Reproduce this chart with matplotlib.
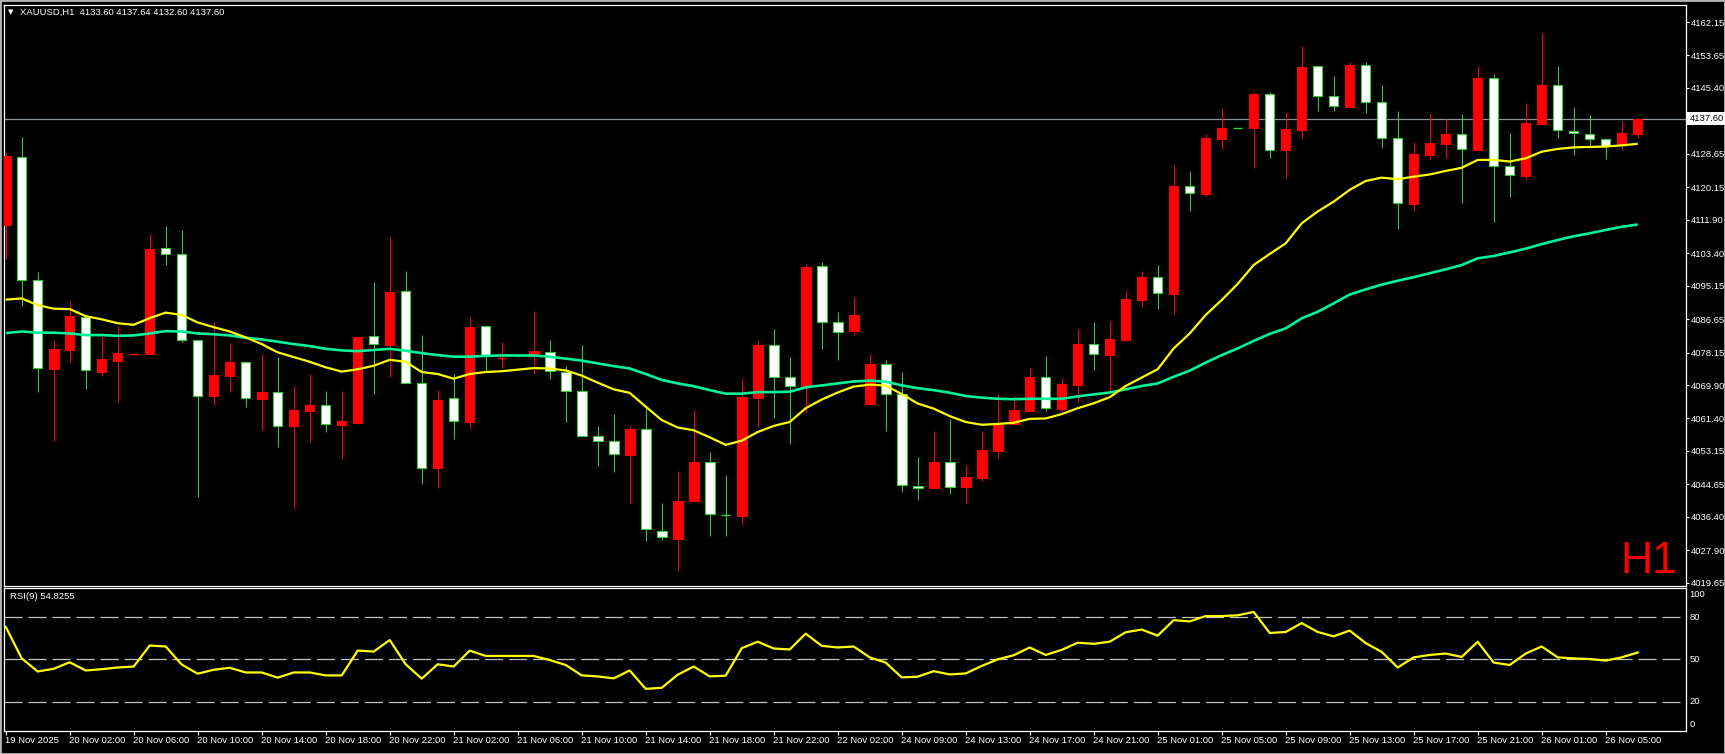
import matplotlib
matplotlib.use("Agg")
import matplotlib.pyplot as plt
from matplotlib.patches import Rectangle
import matplotlib.transforms as mtransforms
import numpy as np

plt.rcParams['font.family'] = ['Liberation Sans', 'DejaVu Sans']
plt.rcParams['lines.scale_dashes'] = False

# ---------------- data ----------------
opens = [4110.6, 4127.8, 4096.5, 4074.0, 4078.9, 4087.3, 4073.3, 4076.1, 4077.9, 4077.9,
         4104.6, 4103.1, 4081.3, 4067.0, 4072.3, 4075.7, 4066.4, 4068.0, 4059.6, 4063.4,
         4064.7, 4059.8, 4060.25, 4082.3, 4080.1, 4093.7, 4070.3, 4048.9, 4066.5, 4060.6,
         4084.8, 4076.8, 4077.4, 4077.5, 4078.3, 4073.1, 4068.3, 4056.9, 4055.6, 4052.2,
         4058.6, 4032.8, 4030.8, 4040.3, 4050.3, 4036.9, 4036.7, 4066.7, 4080.0, 4071.9,
         4069.6, 4100.1, 4085.8, 4083.5, 4065.2, 4075.2, 4067.5, 4044.3, 4043.6, 4050.3,
         4044.0, 4046.35, 4053.2, 4059.9, 4063.4, 4071.85, 4063.8, 4070.0, 4080.2, 4077.6,
         4081.3, 4091.6, 4097.3, 4093.1, 4120.4, 4118.5, 4132.5, 4135.15, 4135.3, 4143.8,
         4129.5, 4134.8, 4150.9, 4143.3, 4140.6, 4151.1, 4141.7, 4132.6, 4116.0, 4128.4,
         4131.2, 4133.6, 4129.7, 4147.8, 4125.5, 4123.1, 4136.3, 4146.1, 4134.4, 4133.8,
         4132.3, 4130.9, 4133.60]
highs = [4129.2, 4133.0, 4098.6, 4081.4, 4091.3, 4087.5, 4082.1, 4085.0, 4078.1, 4108.3,
         4110.3, 4109.3, 4081.4, 4085.8, 4080.7, 4076.1, 4077.8, 4076.9, 4069.7, 4072.7,
         4068.4, 4068.4, 4082.1, 4096.1, 4107.4, 4098.9, 4082.6, 4068.6, 4072.7, 4087.2,
         4085.1, 4080.8, 4077.6, 4088.7, 4081.3, 4074.7, 4080.1, 4059.5, 4062.5, 4059.7,
         4064.4, 4040.0, 4048.1, 4063.5, 4052.9, 4047.0, 4071.4, 4081.3, 4084.1, 4077.0,
         4100.65, 4101.1, 4088.5, 4092.3, 4077.8, 4076.3, 4073.2, 4051.6, 4058.2, 4061.3,
         4049.6, 4058.2, 4067.6, 4067.1, 4074.3, 4077.3, 4071.7, 4084.1, 4085.9, 4086.2,
         4093.8, 4098.9, 4100.4, 4125.8, 4124.3, 4133.7, 4140.3, 4135.2, 4144.45, 4144.45,
         4139.4, 4156.1, 4150.9, 4148.4, 4152.0, 4152.0, 4146.1, 4139.5, 4131.7, 4138.8,
         4137.6, 4138.8, 4151.0, 4148.9, 4133.9, 4141.6, 4159.4, 4151.0, 4140.6, 4138.4,
         4132.6, 4137.0, 4137.64]
lows = [4101.9, 4090.0, 4068.0, 4055.7, 4075.8, 4069.0, 4072.3, 4065.7, 4077.5, 4077.8,
        4100.5, 4080.9, 4041.5, 4064.8, 4068.2, 4064.4, 4058.5, 4054.2, 4038.7, 4055.5,
        4058.0, 4051.2, 4060.0, 4067.5, 4072.0, 4070.3, 4044.8, 4043.8, 4056.3, 4059.1,
        4073.2, 4074.3, 4077.0, 4072.8, 4071.5, 4060.6, 4056.9, 4049.4, 4047.9, 4040.0,
        4030.2, 4030.5, 4022.7, 4040.3, 4031.6, 4031.4, 4034.7, 4059.3, 4061.6, 4055.0,
        4062.9, 4079.1, 4076.3, 4082.6, 4065.2, 4058.3, 4042.8, 4040.8, 4043.6, 4042.3,
        4039.9, 4045.6, 4051.4, 4059.9, 4063.1, 4063.4, 4063.1, 4065.7, 4073.7, 4068.2,
        4081.2, 4089.8, 4089.1, 4088.0, 4114.0, 4118.0, 4130.0, 4135.0, 4125.1, 4127.7,
        4122.6, 4132.8, 4139.6, 4139.6, 4140.6, 4138.9, 4130.2, 4109.6, 4114.0, 4127.4,
        4127.7, 4116.2, 4129.5, 4111.2, 4117.8, 4122.1, 4136.2, 4132.8, 4128.4, 4130.6,
        4127.4, 4129.7, 4132.60]
closes = [4128.1, 4096.5, 4074.1, 4079.1, 4087.4, 4073.6, 4076.5, 4078.0, 4078.0, 4104.5,
          4103.1, 4081.3, 4067.0, 4072.5, 4075.8, 4066.5, 4068.1, 4059.4, 4063.5, 4064.8,
          4059.9, 4060.8, 4082.1, 4080.2, 4093.5, 4070.3, 4048.7, 4066.1, 4060.7, 4084.6,
          4077.4, 4077.0, 4077.3, 4078.5, 4073.4, 4068.3, 4056.9, 4055.6, 4052.3, 4058.7,
          4033.3, 4031.2, 4040.4, 4050.3, 4037.0, 4036.8, 4066.9, 4080.1, 4071.9, 4069.6,
          4099.9, 4085.8, 4083.3, 4087.7, 4075.3, 4067.5, 4044.6, 4043.6, 4050.3, 4044.1,
          4046.5, 4053.4, 4059.7, 4063.5, 4071.9, 4064.0, 4070.2, 4080.3, 4077.7, 4081.5,
          4091.8, 4097.35, 4093.2, 4120.5, 4118.6, 4132.7, 4135.2, 4135.1, 4143.9, 4129.5,
          4135.0, 4150.7, 4143.3, 4140.7, 4151.2, 4141.7, 4132.6, 4116.1, 4128.6, 4131.4,
          4133.7, 4129.8, 4147.9, 4125.5, 4123.2, 4136.4, 4146.1, 4134.6, 4133.9, 4132.3,
          4130.7, 4133.9, 4137.60]

ma_fast = [4091.6, 4091.9, 4090.2, 4089.3, 4089.2, 4087.4, 4086.6, 4085.6, 4085.2, 4086.9,
           4088.3, 4087.7, 4085.8, 4084.6, 4083.5, 4082.0, 4080.3, 4078.2, 4077.0, 4075.8,
           4074.4, 4073.3, 4073.9, 4074.8, 4076.3, 4075.8, 4073.2, 4072.7, 4071.5, 4072.7,
           4073.2, 4073.4, 4073.8, 4074.2, 4074.1, 4073.6, 4072.3, 4070.5, 4068.8, 4067.9,
           4064.4, 4061.0, 4059.1, 4058.4, 4056.6, 4054.7, 4055.75, 4057.95, 4059.5, 4060.5,
           4064.0, 4066.2, 4068.0, 4069.5, 4070.0, 4069.75, 4067.6, 4065.2, 4063.9, 4062.0,
           4060.5, 4059.8, 4060.0, 4060.3, 4061.3, 4061.4, 4062.5, 4064.0, 4065.25, 4066.8,
           4069.65, 4071.8, 4073.9, 4079.2, 4083.0, 4087.7, 4091.5, 4095.6, 4100.4, 4103.2,
           4105.9, 4111.0, 4114.0, 4116.5, 4119.5, 4121.75, 4122.6, 4122.2, 4122.85, 4123.4,
           4124.3, 4125.1, 4127.1, 4127.1, 4126.7, 4127.5, 4129.2, 4129.9, 4130.3, 4130.4,
           4130.5, 4130.8, 4131.2]
ma_slow = [4083.1, 4083.5, 4083.2, 4083.2, 4083.0, 4082.6, 4082.6, 4082.4, 4082.5, 4083.0,
           4083.6, 4083.5, 4083.0, 4082.8, 4082.5, 4081.9, 4081.5, 4080.9, 4080.3, 4079.8,
           4079.1, 4078.7, 4078.5, 4078.8, 4079.1, 4078.6, 4078.0, 4077.5, 4077.1, 4077.1,
           4077.3, 4077.4, 4077.4, 4077.4, 4077.1, 4076.6, 4076.1, 4075.4, 4074.7, 4074.1,
           4072.7, 4071.2, 4070.3, 4069.6, 4068.6, 4067.7, 4067.7, 4068.1, 4068.1, 4068.2,
           4069.3, 4069.8, 4070.3, 4070.8, 4071.0, 4070.75, 4069.8, 4069.1, 4068.6, 4067.95,
           4067.1, 4066.7, 4066.4, 4066.3, 4066.4, 4066.4, 4066.4, 4067.0, 4067.5, 4068.0,
           4068.8, 4069.65, 4070.3, 4072.0, 4073.55, 4075.6, 4077.5, 4079.2, 4081.1, 4082.9,
           4084.3, 4086.85, 4088.5, 4090.65, 4092.9, 4094.2, 4095.4, 4096.4, 4097.3, 4098.3,
           4099.3, 4100.4, 4102.1, 4102.7, 4103.6, 4104.55, 4105.7, 4106.75, 4107.7, 4108.45,
           4109.3, 4110.1, 4110.7]
rsi = [73.0, 50.7, 41.4, 43.3, 47.9, 42.1, 43.0, 44.2, 44.9, 59.8,
       59.1, 46.3, 39.8, 42.6, 44.0, 40.7, 40.7, 37.0, 40.7, 40.7,
       38.6, 38.6, 56.2, 55.5, 63.7, 46.5, 36.3, 46.5, 44.9, 56.2,
       52.4, 52.4, 52.4, 52.4, 49.5, 46.0, 38.6, 37.9, 36.5, 42.1,
       29.1, 29.8, 39.1, 44.9, 37.9, 38.4, 57.9, 62.5, 57.7, 57.0,
       68.2, 59.6, 58.4, 59.1, 51.4, 47.7, 37.2, 37.7, 41.6, 39.3,
       40.0, 45.3, 50.0, 52.9, 58.4, 53.1, 56.7, 61.8, 61.0, 62.5,
       69.2, 71.1, 66.8, 77.8, 76.9, 80.7, 80.7, 81.2, 83.6, 68.7,
       69.4, 75.7, 69.4, 66.3, 70.4, 61.5, 55.3, 44.2, 51.4, 53.1,
       54.1, 51.7, 62.5, 47.7, 46.0, 54.1, 59.1, 51.4, 50.7, 50.2,
       49.1, 51.4, 54.83]

time_labels = ["19 Nov 2025", "20 Nov 02:00", "20 Nov 06:00", "20 Nov 10:00", "20 Nov 14:00",
               "20 Nov 18:00", "20 Nov 22:00", "21 Nov 02:00", "21 Nov 06:00", "21 Nov 10:00",
               "21 Nov 14:00", "21 Nov 18:00", "21 Nov 22:00", "22 Nov 02:00", "24 Nov 09:00",
               "24 Nov 13:00", "24 Nov 17:00", "24 Nov 21:00", "25 Nov 01:00", "25 Nov 05:00",
               "25 Nov 09:00", "25 Nov 13:00", "25 Nov 17:00", "25 Nov 21:00", "26 Nov 01:00",
               "26 Nov 05:00"]
label_step = 4
price_ticks = [4162.15, 4153.65, 4145.40, 4128.65, 4120.15, 4111.90, 4103.40, 4095.15,
               4086.65, 4078.15, 4069.90, 4061.40, 4053.15, 4044.65, 4036.40, 4027.90, 4019.65]
current_price = 4137.60
rsi_levels = [80, 50, 20]
rsi_axis_labels = [100, 80, 50, 20, 0]
header = "XAUUSD,H1  4133.60 4137.64 4132.60 4137.60"
rsi_header = "RSI(9) 54.8255"

# ---------------- layout ----------------
W, H = 1725, 754
fig = plt.figure(figsize=(W / 100, H / 100), dpi=100, facecolor='black')

left_px, right_px = 4.0, 1685.7
main_top, main_bot = 4.7, 586.0
rsi_top, rsi_bot = 588.4, 730.7
px_per_bar = 16.0
x0_px = 5.7

xmin = (left_px - x0_px) / px_per_bar
xmax = (right_px - x0_px) / px_per_bar

def fx(px):
    return px / W

def fy(py):
    return 1 - py / H

ax = fig.add_axes([fx(left_px), fy(main_bot), fx(right_px - left_px), (main_bot - main_top) / H])
axr = fig.add_axes([fx(left_px), fy(rsi_bot), fx(right_px - left_px), (rsi_bot - rsi_top) / H])

FONT = 6.8
WHITE = '#ffffff'
BULL = '#ff0000'
BEAR_EDGE = '#32cd32'

for a in (ax, axr):
    a.set_facecolor('black')
    for s in a.spines.values():
        s.set_color(WHITE)
        s.set_linewidth(0.9)
    a.set_xlim(xmin, xmax)

# ---------------- main chart ----------------
ax.set_ylim(4018.82, 4166.55)
idx = np.arange(len(opens))

ax.axhline(current_price, color='#8a939c', lw=0.9, zorder=1)

bw = 0.6
for i in idx:
    o, h, l, c = opens[i], highs[i], lows[i], closes[i]
    bull = c >= o
    col = BULL if bull else BEAR_EDGE
    ax.vlines(i, l, h, color=col, lw=0.8, zorder=2)
    if abs(c - o) < 0.25:
        ax.hlines(o, i - bw / 2, i + bw / 2, color=col, lw=1.0, zorder=3)
    else:
        if bull:
            rect = Rectangle((i - bw / 2, min(o, c)), bw, abs(c - o),
                             facecolor=BULL, edgecolor=BULL, lw=0.7, zorder=3)
        else:
            rect = Rectangle((i - bw / 2, min(o, c)), bw, abs(c - o),
                             facecolor='white', edgecolor=BEAR_EDGE, lw=0.8, zorder=3)
        ax.add_patch(rect)

ax.plot(idx, ma_slow, color='#00f59b', lw=1.9, zorder=4, solid_capstyle='butt')
ax.plot(idx, ma_fast, color='#ffff00', lw=1.6, zorder=5, solid_capstyle='butt')

ax.set_xticks([])
ax.yaxis.tick_right()
ax.set_yticks(price_ticks)
ax.set_yticklabels([f"{v:.2f}" for v in price_ticks])
ax.tick_params(axis='y', direction='out', length=2.5, width=0.8, color=WHITE,
               labelcolor=WHITE, labelsize=FONT, pad=1.5)

# current price label box
blend_main = mtransforms.blended_transform_factory(fig.transFigure, ax.transData)
fig.text(fx(1689.5), current_price, f"{current_price:.2f}", transform=blend_main,
         color='black', fontsize=FONT, va='center', ha='left',
         bbox=dict(boxstyle='square,pad=0.25', facecolor='white', edgecolor='none'))

# H1 marker
fig.text(fx(1677), fy(572.7), 'H1', color='#ff0000', fontsize=32, ha='right',
         va='baseline', family=['Liberation Sans', 'DejaVu Sans'])

# header
fig.text(fx(8), fy(12.5), '\u25BC', color=WHITE, fontsize=5, ha='left', va='center',
         family=['DejaVu Sans'])
fig.text(fx(20), fy(12.5), header, color=WHITE, fontsize=FONT, ha='left', va='center')

# ---------------- RSI ----------------
axr.set_ylim(-0.6, 100.3)
for lv in rsi_levels:
    axr.axhline(lv, color='#c0c0c0', lw=0.9, dashes=(13, 4.3), zorder=1)
axr.plot(idx, rsi, color='#ffff00', lw=1.6, zorder=3)
axr.set_yticks([])
axr.set_xticks(idx[::label_step])
axr.tick_params(axis='x', direction='out', length=3, width=0.8, color=WHITE,
                labelbottom=False)

blend_rsi = mtransforms.blended_transform_factory(fig.transFigure, axr.transData)
for lv in rsi_axis_labels:
    ypos = lv
    if lv == 100:
        ypos = 96.1
    elif lv == 0:
        ypos = 3.9
    fig.text(fx(1689.3), ypos, str(lv), transform=blend_rsi, color=WHITE,
             fontsize=FONT, ha='left', va='center')

fig.text(fx(9.6), fy(596.7), rsi_header, color=WHITE, fontsize=FONT, ha='left', va='center')

# time labels
blend_time = mtransforms.blended_transform_factory(axr.transData, fig.transFigure)
for k, lab in enumerate(time_labels):
    fig.text(k * label_step - 0.06, fy(740.7), lab, transform=blend_time, color=WHITE,
             fontsize=FONT, ha='left', va='center')

# window border
fig.patches.append(Rectangle((0, 0), 1, 1, transform=fig.transFigure, fill=False,
                             edgecolor='#b4b4b4', lw=2.0))

fig.savefig('out.png', dpi=100, facecolor='black')
